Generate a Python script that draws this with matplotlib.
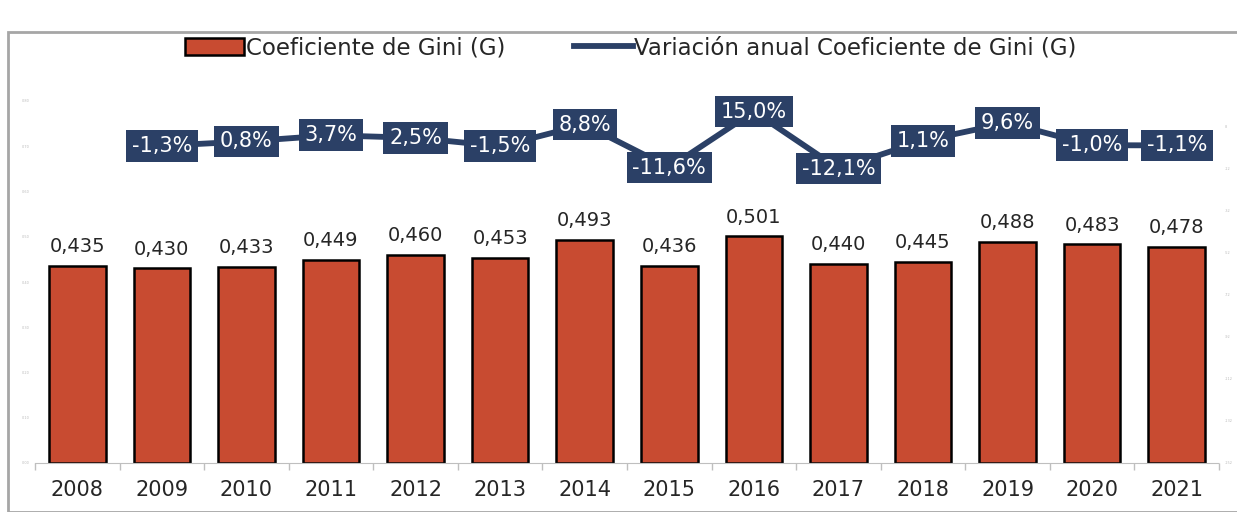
import matplotlib.pyplot as plt
from matplotlib.patches import Rectangle
import numpy as np

years = ['2008', '2009', '2010', '2011', '2012', '2013', '2014',
         '2015', '2016', '2017', '2018', '2019', '2020', '2021']
gini = [0.435, 0.430, 0.433, 0.449, 0.460, 0.453, 0.493,
        0.436, 0.501, 0.440, 0.445, 0.488, 0.483, 0.478]
# variacion anual (%), no value for 2008
variacion = [-1.3, 0.8, 3.7, 2.5, -1.5, 8.8, -11.6,
             15.0, -12.1, 1.1, 9.6, -1.0, -1.1]

bar_color = '#C84B31'
line_color = '#2B4066'

fig = plt.figure(figsize=(12.37, 5.12), dpi=100)
fig.patches.append(Rectangle((8 / 1237, 0), 1.0, 1 - 32 / 512, transform=fig.transFigure,
                             fill=False, edgecolor='#A6A6A6', linewidth=2.0))

ax = fig.add_axes([35 / 1237, 49 / 512, 1184 / 1237, 362 / 512])
x = np.arange(len(years))
ax.bar(x, gini, width=0.67, color=bar_color, edgecolor='black', linewidth=1.8,
       label='Coeficiente de Gini (G)', zorder=2)
for xi, v in zip(x, gini):
    ax.annotate(f'{v:.3f}'.replace('.', ','), (xi, v), xytext=(0, 7),
                textcoords='offset points', ha='center', va='bottom',
                fontsize=14, color='#262626')

ax.set_xlim(-0.5, len(years) - 0.5)
ax.set_ylim(0, 0.8)
lt = np.arange(0, 0.81, 0.1)
ax.set_yticks(lt)
ax.set_yticklabels([f'{t:.2f}'.replace('.', ',') for t in lt],
                   fontsize=2.5, color='#BBBBBB')
ax.tick_params(axis='y', length=0, pad=4)
ax.set_xticks(x)
ax.set_xticklabels(years, fontsize=15, color='#262626')
ax.set_xticks(np.arange(-0.5, len(years), 1), minor=True)
ax.tick_params(axis='x', which='major', length=0, pad=12)
ax.tick_params(axis='x', which='minor', length=5, color='#BFBFBF', width=1)
for s in ['top', 'right', 'left']:
    ax.spines[s].set_visible(False)
ax.spines['bottom'].set_color('#BFBFBF')
ax.spines['bottom'].set_linestyle((0, (1, 1)))

ax2 = ax.twinx()
xv = np.arange(1, len(years))
ax2.plot(xv, variacion, color=line_color, linewidth=4.2,
         label='Variación anual Coeficiente de Gini (G)', zorder=3)
for xi, v in zip(xv, variacion):
    ax2.text(xi, v, f'{v:.1f}%'.replace('.', ','),
             ha='center', va='center', fontsize=15, color='white', zorder=4,
             bbox=dict(boxstyle='square,pad=0.28', facecolor=line_color, edgecolor='none'))
ax2.set_ylim(-152, 20)
rt = -152 + 20 * np.arange(9)
ax2.set_yticks(rt)
ax2.set_yticklabels([f'{t:.0f}' for t in rt], fontsize=2.5, color='#BBBBBB')
ax2.tick_params(axis='y', length=0, pad=4)
for s in ['top', 'right', 'left', 'bottom']:
    ax2.spines[s].set_visible(False)

h1, l1 = ax.get_legend_handles_labels()
h2, l2 = ax2.get_legend_handles_labels()
fig.legend(h1 + h2, l1 + l2, loc='center', bbox_to_anchor=(0.51, 1 - 48 / 512),
           ncol=2, frameon=False, fontsize=16.5, handlelength=2.6, handletextpad=0.05,
           columnspacing=3.0, labelcolor='#262626')

fig.savefig('out.png', dpi=100)
